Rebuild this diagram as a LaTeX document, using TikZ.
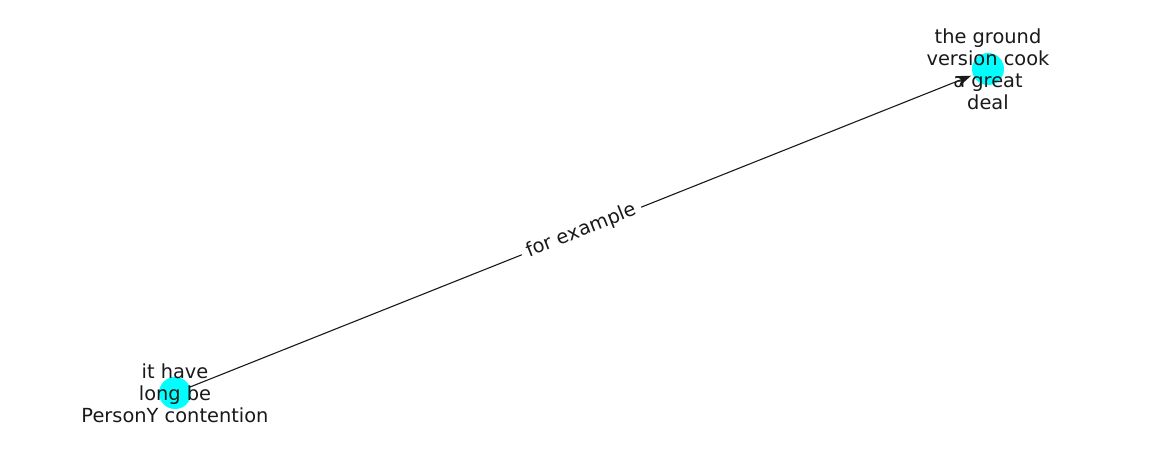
\documentclass[tikz,border=0pt]{standalone}
\usepackage{fontspec}
\setmainfont{DejaVu Sans}
\usetikzlibrary{arrows.meta}
\definecolor{nodecyan}{RGB}{0,255,255}

\begin{document}
\begin{tikzpicture}[x=1pt, y=1pt, >={Stealth[length=15pt, width=11pt]}, line cap=round, line join=round]
	\tikzset{
		dot/.style={circle, fill=nodecyan, minimum size=32pt, inner sep=0pt},
		txt/.style={align=center, text=black!90, font=\fontsize{19.4}{22}\selectfont},
		link/.style={black!90, line width=1.1pt, shorten >=2pt, shorten <=0pt},
		lbl/.style={fill=white, inner sep=6pt, sloped, text=black!90, font=\fontsize{19.4}{22}\selectfont}
	}
	
	\useasboundingbox (0,0) rectangle (1162,462);
	
	\node[dot] (itlong) at (175,69) {};
	\node[dot] (ground) at (988,393) {};
	
	\draw[link,->] (itlong) -- (ground) node[lbl, midway] {for example};
	
	\node[txt] (itlongtxt) at (itlong) {it have\\long be\\PersonY contention};
	\node[txt] (groundtxt) at (ground) {the ground\\version cook\\a great\\deal};
	
\end{tikzpicture}
\end{document}
